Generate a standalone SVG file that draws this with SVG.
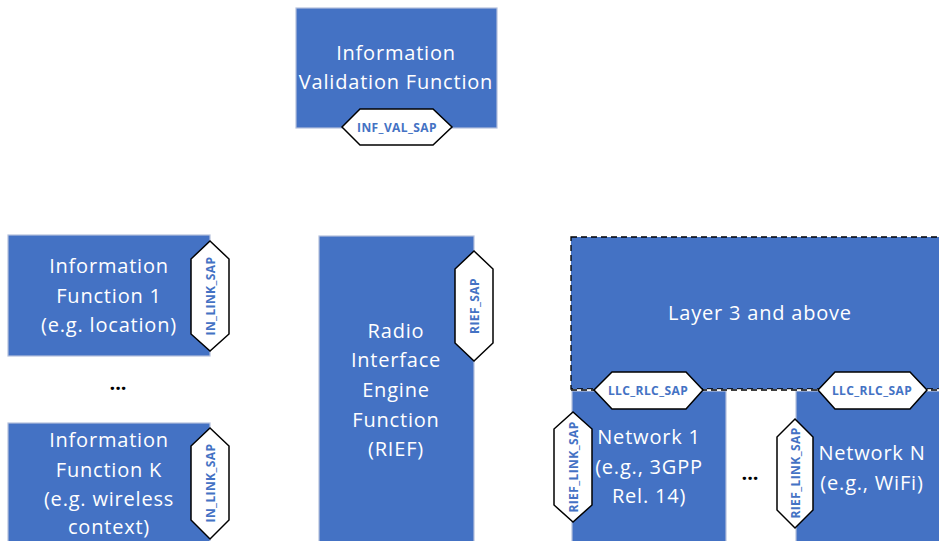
<svg xmlns="http://www.w3.org/2000/svg" width="939" height="541" viewBox="0 0 939 541">
<style>
.box{fill:#4472C4;stroke:#B4C0DC;stroke-width:1.2}
.dbox{fill:#4472C4;stroke:#000;stroke-width:1.3;stroke-dasharray:6 4}
.t{font-family:"Open Sans","Liberation Sans",sans-serif;font-size:20px;letter-spacing:0.8px;fill:#fff;text-anchor:middle}
.hex{fill:#fff;stroke:#000;stroke-width:1.5}
.s{font-family:"Open Sans","Liberation Sans",sans-serif;font-size:12px;font-weight:bold;letter-spacing:0.4px;fill:#4472C4;text-anchor:middle;dominant-baseline:central}
.dots{font-family:"Open Sans","Liberation Sans",sans-serif;font-size:20px;font-weight:bold;fill:#000;text-anchor:middle}
</style>
<rect width="939" height="541" fill="#fff"/>
<g id="ivf">
<rect class="box" x="296" y="8" width="201" height="120"/>
<text class="t" x="396" y="60">Information</text>
<text class="t" x="396" y="89">Validation Function</text>
<polygon class="hex" points="342,127 360,109 433,109 452,127 433,145 360,145"/>
<text class="s" x="397" y="127">INF_VAL_SAP</text>
</g>
<g id="if1">
<rect class="box" x="8" y="235" width="202" height="121"/>
<text class="t" x="109" y="273">Information</text>
<text class="t" x="109" y="303">Function 1</text>
<text class="t" x="109" y="332">(e.g. location)</text>
<polygon class="hex" points="210,241 229,259 229,334 210,351 191,334 191,259"/>
<text class="s" transform="translate(210,296) rotate(-90)">IN_LINK_SAP</text>
</g>
<g id="ifk">
<rect class="box" x="8" y="423" width="202" height="130"/>
<text class="t" x="109" y="447">Information</text>
<text class="t" x="109" y="477">Function K</text>
<text class="t" x="109" y="506">(e.g. wireless</text>
<text class="t" x="109" y="534">context)</text>
<polygon class="hex" points="210,428 229,446 229,520 210,539 191,520 191,446"/>
<text class="s" transform="translate(210,483) rotate(-90)">IN_LINK_SAP</text>
</g>
<text class="dots" x="118" y="390">...</text>
<g id="rief">
<rect class="box" x="319" y="236" width="155" height="320"/>
<text class="t" x="396" y="338">Radio</text>
<text class="t" x="396" y="367">Interface</text>
<text class="t" x="396" y="397">Engine</text>
<text class="t" x="396" y="427">Function</text>
<text class="t" x="396" y="456">(RIEF)</text>
<polygon class="hex" points="474,251 493,269 493,343 474,361 455,343 455,269"/>
<text class="s" transform="translate(474,306) rotate(-90)">RIEF_SAP</text>
</g>
<g id="layer3">
<rect class="dbox" x="571" y="237" width="380" height="152"/>
<text class="t" x="760" y="320">Layer 3 and above</text>
</g>
<g id="net1">
<rect class="box" x="572" y="391" width="154" height="160"/>
<text class="t" x="649" y="444">Network 1</text>
<text class="t" x="649" y="474">(e.g., 3GPP</text>
<text class="t" x="649" y="503">Rel. 14)</text>
<polygon class="hex" points="573,412 592,429 592,505 573,522 554,505 554,429"/>
<text class="s" transform="translate(573,467) rotate(-90)">RIEF_LINK_SAP</text>
</g>
<g id="netn">
<rect class="box" x="796" y="391" width="160" height="160"/>
<text class="t" x="872" y="460">Network N</text>
<text class="t" x="872" y="490">(e.g., WiFi)</text>
<polygon class="hex" points="795,419 813,437 813,510 795,528 777,510 777,437"/>
<text class="s" transform="translate(795,473) rotate(-90)">RIEF_LINK_SAP</text>
</g>
<text class="dots" x="750" y="480">...</text>
<g id="connectors">
<line x1="571" y1="390" x2="939" y2="390" stroke="#fff" stroke-width="1.5"/>
<line x1="571" y1="390" x2="939" y2="390" stroke="#000" stroke-width="1.3" stroke-dasharray="6 4"/>
<polygon class="hex" points="594,390 612,372 686,372 703,390 686,409 612,409"/>
<text class="s" x="648" y="390">LLC_RLC_SAP</text>
<polygon class="hex" points="818,390 835,372 910,372 927,390 910,409 835,409"/>
<text class="s" x="872" y="390">LLC_RLC_SAP</text>
</g>
</svg>
